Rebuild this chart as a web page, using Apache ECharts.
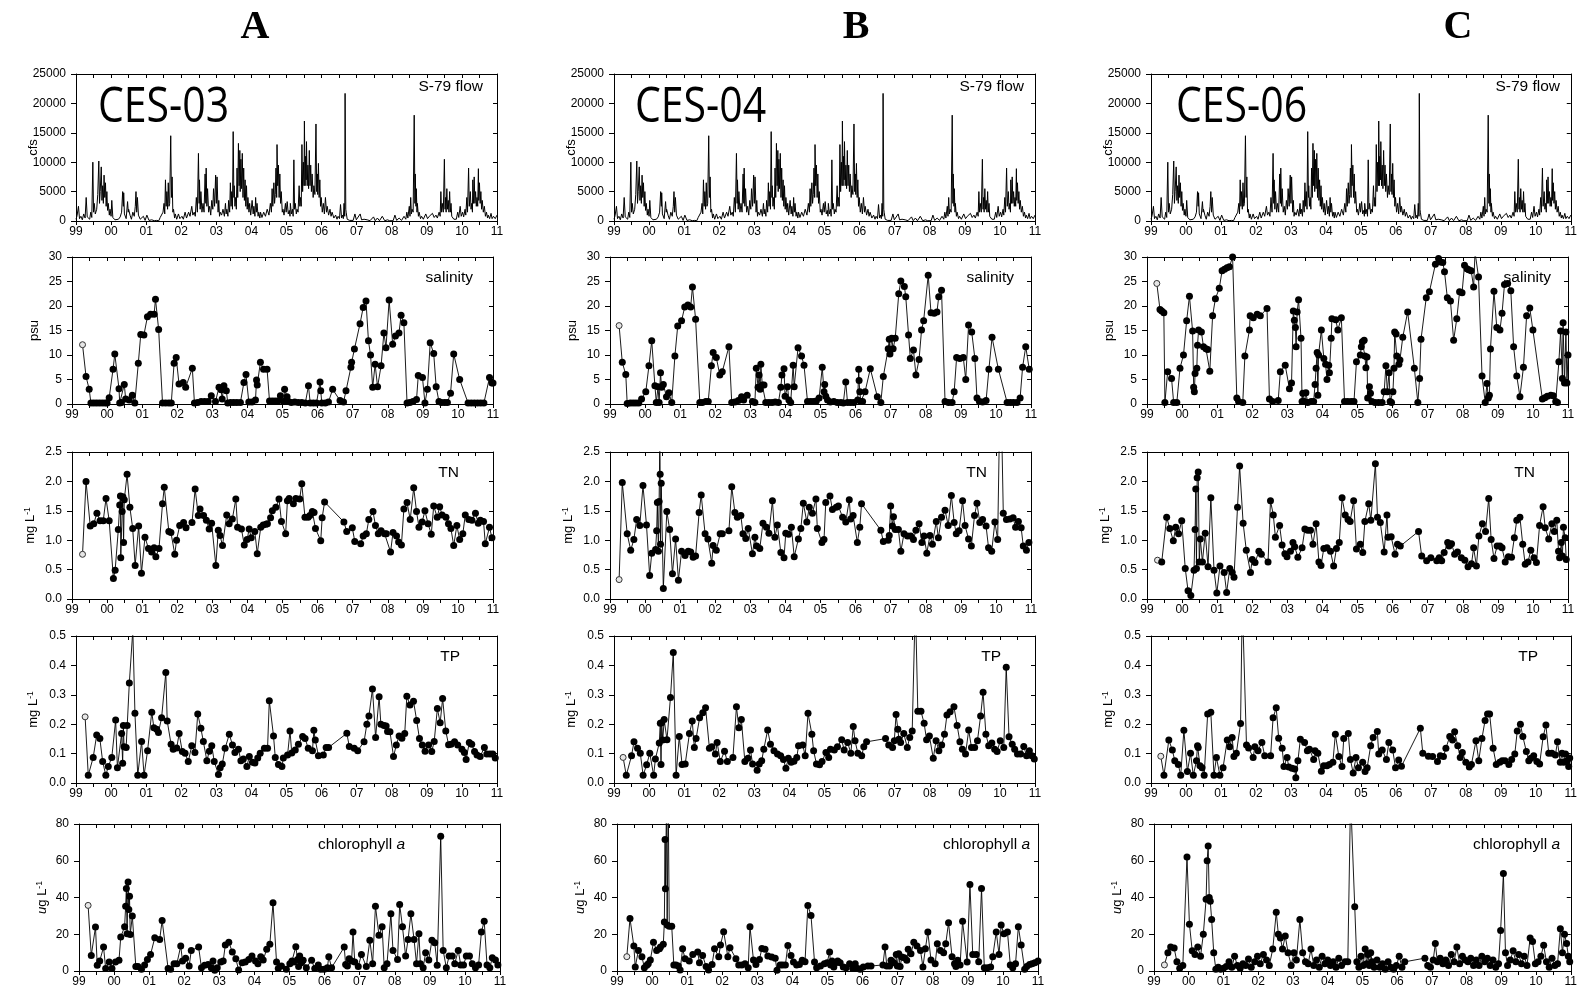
<!DOCTYPE html>
<html><head><meta charset="utf-8">
<script src="https://cdn.jsdelivr.net/npm/echarts@6/dist/echarts.min.js"></script>
<style>html,body{margin:0;padding:0;background:#fff}#c{width:1580px;height:995px}</style>
</head><body><div id="c"></div>
<script>
// ---------------- data ----------------
const columnTitles = ['A','B','C'];
const stations = ['CES-03','CES-04','CES-06'];
const panelLabels = ['S-79 flow','salinity','TN','TP','chlorophyll a'];
const yMax = [25000,30,2.5,0.5,80];
const yStep = [5000,5,0.5,0.1,20];
const yDecimals = [0,0,1,1,0];
const xMin = 1999, xMax = 2011;

// S-79 daily flow (cfs), [decimal year, value]
const flow = [[1999.00,300],[1999.03,900],[1999.07,2500],[1999.10,400],[1999.14,800],[1999.18,200],[1999.22,1200],[1999.26,500],[1999.29,4000],[1999.32,700],[1999.35,1000],[1999.39,300],[1999.42,1500],[1999.45,600],[1999.48,10000],[1999.50,1500],[1999.52,3000],[1999.55,1200],[1999.59,2000],[1999.62,4500],[1999.65,10200],[1999.67,3000],[1999.69,5000],[1999.72,9200],[1999.74,3500],[1999.76,6000],[1999.78,3000],[1999.80,7800],[1999.82,4000],[1999.84,6500],[1999.86,2500],[1999.88,5000],[1999.90,1800],[1999.92,3000],[1999.95,1000],[1999.97,2000],[2000.00,800],[2000.02,3500],[2000.05,600],[2000.07,500],[2000.11,200],[2000.16,500],[2000.21,300],[2000.26,700],[2000.30,1500],[2000.33,5000],[2000.35,2500],[2000.36,4800],[2000.38,1200],[2000.40,1500],[2000.43,400],[2000.47,3300],[2000.49,1500],[2000.50,2000],[2000.54,1000],[2000.58,300],[2000.62,1500],[2000.66,800],[2000.69,2500],[2000.71,5000],[2000.73,1500],[2000.75,4000],[2000.78,1000],[2000.83,300],[2000.88,100],[2000.92,800],[2000.97,100],[2001.02,1000],[2001.08,100],[2001.16,200],[2001.23,50],[2001.30,100],[2001.36,50],[2001.40,600],[2001.45,300],[2001.48,1500],[2001.51,3000],[2001.53,1200],[2001.55,7000],[2001.57,2500],[2001.59,5000],[2001.61,2000],[2001.63,6500],[2001.65,2500],[2001.67,3000],[2001.70,14500],[2001.72,4000],[2001.74,7500],[2001.76,1500],[2001.78,2000],[2001.81,500],[2001.83,1200],[2001.87,300],[2001.92,1200],[2001.96,400],[2002.02,800],[2002.06,300],[2002.11,1500],[2002.15,500],[2002.21,1500],[2002.25,800],[2002.30,2500],[2002.33,1000],[2002.37,1500],[2002.40,800],[2002.43,4000],[2002.46,1500],[2002.49,11500],[2002.51,3000],[2002.52,7000],[2002.54,2000],[2002.56,5000],[2002.59,1500],[2002.62,3000],[2002.65,1500],[2002.68,8000],[2002.70,3000],[2002.71,9000],[2002.73,2500],[2002.75,5500],[2002.78,1500],[2002.81,2500],[2002.84,1000],[2002.87,3500],[2002.90,2000],[2002.92,5500],[2002.95,2500],[2002.98,7800],[2003.00,3000],[2003.02,7500],[2003.05,1500],[2003.07,3500],[2003.09,800],[2003.11,1500],[2003.15,1000],[2003.19,2000],[2003.23,800],[2003.26,3000],[2003.28,1200],[2003.30,2000],[2003.33,800],[2003.35,3500],[2003.38,1500],[2003.40,6500],[2003.42,2500],[2003.44,5000],[2003.46,2000],[2003.48,15200],[2003.50,4000],[2003.51,6000],[2003.53,2500],[2003.55,4000],[2003.57,2000],[2003.59,9000],[2003.61,4000],[2003.63,13200],[2003.65,6000],[2003.67,12000],[2003.68,5000],[2003.70,10500],[2003.72,5500],[2003.74,11500],[2003.76,4000],[2003.78,9000],[2003.80,3500],[2003.82,7000],[2003.84,2500],[2003.86,6000],[2003.88,2000],[2003.90,4000],[2003.93,1500],[2003.95,3000],[2003.98,1000],[2004.02,3500],[2004.05,1200],[2004.07,2500],[2004.10,800],[2004.12,4000],[2004.14,1500],[2004.16,3000],[2004.19,800],[2004.21,1500],[2004.24,500],[2004.26,1500],[2004.30,600],[2004.35,1500],[2004.40,800],[2004.45,2000],[2004.50,1000],[2004.54,3000],[2004.57,1500],[2004.59,5500],[2004.61,2500],[2004.64,6500],[2004.66,3000],[2004.68,4500],[2004.70,9000],[2004.72,4000],[2004.73,13000],[2004.75,6000],[2004.77,9500],[2004.79,4000],[2004.81,8000],[2004.83,3000],[2004.85,5000],[2004.88,1500],[2004.90,2000],[2004.93,1000],[2004.97,3000],[2004.99,1500],[2005.02,3300],[2005.05,1200],[2005.08,1800],[2005.10,800],[2005.11,3000],[2005.14,1200],[2005.17,2000],[2005.19,800],[2005.21,10400],[2005.23,2000],[2005.25,3000],[2005.28,1200],[2005.30,2000],[2005.33,1500],[2005.36,6000],[2005.38,2500],[2005.40,4000],[2005.42,2500],[2005.44,13000],[2005.46,5000],[2005.48,10000],[2005.50,6000],[2005.51,17000],[2005.53,6000],[2005.54,11000],[2005.56,7000],[2005.57,13500],[2005.59,6000],[2005.61,9500],[2005.63,5500],[2005.65,12000],[2005.67,6000],[2005.69,9500],[2005.71,5000],[2005.73,8000],[2005.76,4000],[2005.78,6000],[2005.81,4500],[2005.84,16500],[2005.86,5000],[2005.88,8000],[2005.89,4500],[2005.91,9800],[2005.93,4000],[2005.95,7000],[2005.97,2500],[2005.99,4000],[2006.02,1500],[2006.05,3000],[2006.08,1200],[2006.11,4000],[2006.14,1500],[2006.16,2500],[2006.20,1000],[2006.24,2000],[2006.27,800],[2006.30,1500],[2006.35,500],[2006.40,1000],[2006.44,300],[2006.47,800],[2006.51,400],[2006.54,2800],[2006.57,500],[2006.60,1000],[2006.62,400],[2006.64,3000],[2006.66,800],[2006.67,21700],[2006.69,2000],[2006.70,1500],[2006.73,300],[2006.75,500],[2006.80,100],[2006.85,300],[2006.90,100],[2006.95,1200],[2006.99,200],[2007.04,100],[2007.10,1200],[2007.14,200],[2007.21,300],[2007.26,50],[2007.30,200],[2007.38,50],[2007.48,700],[2007.53,50],[2007.59,500],[2007.65,50],[2007.73,800],[2007.80,50],[2007.88,200],[2007.94,50],[2007.98,300],[2008.04,50],[2008.09,1000],[2008.14,100],[2008.21,500],[2008.28,100],[2008.35,800],[2008.40,300],[2008.43,1500],[2008.46,500],[2008.50,2500],[2008.52,800],[2008.54,4000],[2008.56,1200],[2008.58,2000],[2008.61,1500],[2008.64,18000],[2008.66,3000],[2008.67,8000],[2008.69,2500],[2008.70,5500],[2008.72,1500],[2008.73,3000],[2008.76,800],[2008.78,1500],[2008.82,400],[2008.85,800],[2008.90,300],[2008.97,1200],[2009.02,400],[2009.07,800],[2009.12,500],[2009.16,1300],[2009.21,600],[2009.26,1000],[2009.30,500],[2009.35,1500],[2009.38,800],[2009.40,5000],[2009.42,1500],[2009.44,3000],[2009.47,1500],[2009.50,10500],[2009.52,2000],[2009.53,4000],[2009.55,1500],[2009.57,5500],[2009.59,2000],[2009.61,3500],[2009.63,1500],[2009.65,5000],[2009.67,1500],[2009.69,3000],[2009.71,800],[2009.73,1000],[2009.77,300],[2009.80,500],[2009.84,300],[2009.88,1500],[2009.91,600],[2009.95,2500],[2009.98,800],[2010.02,1500],[2010.05,700],[2010.09,2000],[2010.11,1000],[2010.14,4000],[2010.16,1500],[2010.19,9000],[2010.21,2500],[2010.24,5000],[2010.26,2000],[2010.28,3000],[2010.30,1500],[2010.31,7000],[2010.33,3000],[2010.35,7500],[2010.37,3000],[2010.39,5000],[2010.41,2500],[2010.43,4000],[2010.45,2500],[2010.47,8900],[2010.48,3500],[2010.50,6500],[2010.52,3000],[2010.54,5000],[2010.56,2000],[2010.58,3500],[2010.61,1500],[2010.64,2500],[2010.67,800],[2010.70,1500],[2010.73,500],[2010.75,1000],[2010.79,400],[2010.83,1300],[2010.86,400],[2010.90,800],[2010.95,400],[2011.00,1000]];

// CES-03
const sal03 = [[1999.30,12.1],[1999.40,5.6],[1999.49,3.0],[1999.54,0.2],[1999.62,0.2],[1999.70,0.2],[1999.78,0.2],[1999.86,0.2],[1999.94,0.2],[2000.00,0.2],[2000.06,1.3],[2000.17,7.1],[2000.22,10.2],[2000.34,3.1],[2000.36,0.2],[2000.41,0.3],[2000.49,4.0],[2000.53,1.0],[2000.63,0.8],[2000.72,1.8],[2000.79,0.2],[2000.89,8.3],[2000.96,14.2],[2001.05,14.1],[2001.15,17.8],[2001.24,18.3],[2001.34,18.3],[2001.38,21.4],[2001.47,15.2],[2001.58,0.2],[2001.67,0.2],[2001.76,0.2],[2001.83,0.2],[2001.91,8.3],[2001.97,9.5],[2002.05,4.1],[2002.17,4.4],[2002.24,3.4],[2002.43,7.3],[2002.49,0.2],[2002.58,0.3],[2002.68,0.5],[2002.78,0.5],[2002.88,0.5],[2002.97,1.7],[2003.09,0.5],[2003.19,3.4],[2003.25,2.9],[2003.28,1.0],[2003.33,3.7],[2003.40,2.7],[2003.44,0.2],[2003.52,0.3],[2003.61,0.3],[2003.70,0.3],[2003.80,0.3],[2003.90,4.4],[2003.96,6.0],[2004.04,0.4],[2004.13,0.4],[2004.23,0.8],[2004.26,4.9],[2004.28,3.9],[2004.37,8.5],[2004.46,7.1],[2004.56,7.1],[2004.63,0.6],[2004.71,0.6],[2004.79,0.6],[2004.87,0.6],[2004.94,1.7],[2005.03,0.5],[2005.06,3.0],[2005.13,1.5],[2005.17,0.5],[2005.25,0.3],[2005.35,0.4],[2005.45,0.3],[2005.55,0.3],[2005.65,0.2],[2005.74,3.7],[2005.79,0.2],[2005.88,0.2],[2005.97,0.2],[2006.07,4.5],[2006.09,2.7],[2006.12,0.2],[2006.22,0.2],[2006.31,0.4],[2006.43,3.0],[2006.64,0.7],[2006.74,0.4],[2006.81,2.7],[2006.95,7.5],[2006.97,8.5],[2007.05,11.2],[2007.21,16.4],[2007.30,19.7],[2007.38,21.0],[2007.45,12.9],[2007.51,10.0],[2007.57,3.4],[2007.64,8.1],[2007.71,3.5],[2007.81,7.8],[2007.89,14.5],[2007.95,11.5],[2008.04,21.2],[2008.14,12.2],[2008.22,13.9],[2008.32,14.5],[2008.38,18.1],[2008.46,16.6],[2008.55,0.2],[2008.63,0.3],[2008.72,0.5],[2008.82,0.9],[2008.87,5.8],[2008.99,5.4],[2009.06,0.2],[2009.13,3.0],[2009.21,12.5],[2009.31,10.3],[2009.38,3.5],[2009.46,0.5],[2009.53,0.3],[2009.62,0.3],[2009.70,0.3],[2009.79,2.2],[2009.88,10.2],[2010.05,5.0],[2010.29,0.2],[2010.38,0.2],[2010.47,0.2],[2010.56,0.2],[2010.65,0.2],[2010.74,0.2],[2010.90,5.4],[2010.97,4.3],[2011.00,4.3]];
const tn03 = [[1999.30,0.76],[1999.40,2.0],[1999.52,1.24],[1999.62,1.28],[1999.71,1.46],[1999.80,1.33],[1999.89,1.33],[1999.97,1.71],[2000.06,1.33],[2000.18,0.35],[2000.23,0.49],[2000.32,1.18],[2000.36,1.60],[2000.38,1.75],[2000.39,0.70],[2000.43,1.49],[2000.45,1.74],[2000.47,0.96],[2000.49,1.69],[2000.57,2.12],[2000.65,1.56],[2000.73,1.20],[2000.80,0.57],[2000.90,1.24],[2000.98,0.44],[2001.08,1.05],[2001.18,0.86],[2001.27,0.80],[2001.34,0.87],[2001.39,0.72],[2001.48,0.86],[2001.58,1.62],[2001.63,1.90],[2001.76,1.15],[2001.82,1.13],[2001.93,0.76],[2001.98,1.0],[2002.07,1.25],[2002.18,1.30],[2002.25,1.21],[2002.42,1.30],[2002.51,1.87],[2002.60,1.42],[2002.65,1.53],[2002.75,1.42],[2002.83,1.34],[2002.91,1.19],[2002.98,1.29],[2003.10,0.57],[2003.17,1.17],[2003.22,1.08],[2003.29,0.91],[2003.41,1.43],[2003.48,1.28],[2003.57,1.36],[2003.67,1.70],[2003.72,1.22],[2003.83,1.19],[2003.91,0.92],[2003.99,1.01],[2004.05,1.19],[2004.11,1.04],[2004.21,1.15],[2004.28,0.77],[2004.38,1.22],[2004.45,1.26],[2004.53,1.27],[2004.57,1.28],[2004.66,1.38],[2004.71,1.50],[2004.81,1.56],[2004.90,1.70],[2004.97,1.32],[2005.09,1.11],[2005.14,1.67],[2005.19,1.71],[2005.31,1.62],[2005.38,1.71],[2005.49,1.70],[2005.55,1.96],[2005.64,1.39],[2005.73,1.39],[2005.78,1.42],[2005.85,1.49],[2005.90,1.47],[2005.94,1.20],[2006.09,0.99],[2006.13,1.38],[2006.20,1.65],[2006.75,1.31],[2006.83,1.15],[2006.99,1.21],[2007.06,0.98],[2007.23,0.94],[2007.30,1.07],[2007.39,1.11],[2007.46,1.35],[2007.58,1.49],[2007.65,1.25],[2007.73,1.11],[2007.81,1.16],[2007.91,1.11],[2007.96,1.11],[2008.08,0.80],[2008.15,1.13],[2008.25,1.07],[2008.31,0.97],[2008.39,0.92],[2008.46,1.53],[2008.55,1.64],[2008.64,1.35],[2008.74,1.89],[2008.82,1.49],[2008.89,1.22],[2008.98,1.31],[2009.06,1.50],[2009.15,1.28],[2009.24,1.10],[2009.31,1.58],[2009.41,1.39],[2009.48,1.57],[2009.55,1.43],[2009.66,1.39],[2009.73,1.28],[2009.80,1.20],[2009.88,0.91],[2009.97,1.25],[2010.05,1.01],[2010.14,1.11],[2010.21,1.43],[2010.31,1.35],[2010.40,1.34],[2010.50,1.46],[2010.58,1.29],[2010.64,1.34],[2010.73,1.32],[2010.78,0.94],[2010.90,1.22],[2010.97,1.04]];
const tp03 = [[1999.26,0.225],[1999.35,0.026],[1999.49,0.087],[1999.59,0.163],[1999.68,0.151],[1999.76,0.073],[1999.85,0.026],[1999.92,0.056],[2000.02,0.087],[2000.13,0.214],[2000.18,0.052],[2000.30,0.168],[2000.33,0.067],[2000.35,0.196],[2000.37,0.123],[2000.43,0.121],[2000.46,0.196],[2000.52,0.34],[2000.62,0.52],[2000.68,0.237],[2000.76,0.026],[2000.87,0.141],[2000.94,0.026],[2001.04,0.11],[2001.16,0.241],[2001.22,0.188],[2001.30,0.183],[2001.35,0.172],[2001.44,0.222],[2001.56,0.376],[2001.60,0.211],[2001.71,0.132],[2001.77,0.115],[2001.87,0.119],[2001.94,0.168],[2002.03,0.107],[2002.11,0.101],[2002.20,0.073],[2002.30,0.127],[2002.39,0.104],[2002.47,0.235],[2002.56,0.186],[2002.63,0.141],[2002.73,0.076],[2002.80,0.108],[2002.87,0.127],[2002.94,0.073],[2003.06,0.029],[2003.11,0.052],[2003.17,0.065],[2003.25,0.118],[2003.37,0.166],[2003.46,0.129],[2003.53,0.104],[2003.63,0.115],[2003.70,0.076],[2003.77,0.082],[2003.87,0.056],[2003.94,0.090],[2004.03,0.071],[2004.10,0.068],[2004.18,0.085],[2004.25,0.101],[2004.37,0.118],[2004.46,0.118],[2004.51,0.28],[2004.63,0.160],[2004.68,0.087],[2004.77,0.063],[2004.87,0.056],[2004.91,0.085],[2005.03,0.095],[2005.10,0.177],[2005.15,0.102],[2005.25,0.112],[2005.34,0.132],[2005.46,0.158],[2005.53,0.151],[2005.62,0.118],[2005.74,0.110],[2005.78,0.179],[2005.82,0.146],[2005.91,0.093],[2006.05,0.095],[2006.13,0.121],[2006.20,0.121],[2006.72,0.169],[2006.79,0.124],[2006.93,0.118],[2007.03,0.110],[2007.21,0.140],[2007.29,0.20],[2007.35,0.228],[2007.45,0.32],[2007.54,0.155],[2007.64,0.293],[2007.69,0.20],[2007.78,0.196],[2007.84,0.194],[2007.88,0.175],[2007.95,0.174],[2008.05,0.090],[2008.13,0.129],[2008.21,0.160],[2008.29,0.152],[2008.37,0.168],[2008.43,0.295],[2008.52,0.265],[2008.62,0.278],[2008.71,0.213],[2008.79,0.151],[2008.87,0.129],[2008.95,0.108],[2009.05,0.129],[2009.14,0.107],[2009.21,0.141],[2009.30,0.253],[2009.38,0.205],[2009.45,0.287],[2009.54,0.177],[2009.62,0.130],[2009.69,0.132],[2009.79,0.140],[2009.88,0.129],[2010.00,0.115],[2010.07,0.104],[2010.12,0.080],[2010.21,0.138],[2010.28,0.132],[2010.36,0.107],[2010.43,0.095],[2010.52,0.090],[2010.64,0.121],[2010.71,0.099],[2010.80,0.099],[2010.88,0.099],[2010.95,0.085]];
const chl03 = [[1999.26,35.7],[1999.35,8.5],[1999.47,23.9],[1999.52,3.1],[1999.59,5.4],[1999.70,13.0],[1999.76,1.4],[1999.86,4.9],[1999.94,1.4],[2000.04,4.9],[2000.14,5.8],[2000.19,18.5],[2000.30,24.1],[2000.33,35.3],[2000.35,44.9],[2000.37,20.3],[2000.40,48.5],[2000.42,33.5],[2000.44,40.7],[2000.46,19.9],[2000.52,29.9],[2000.62,2.4],[2000.68,2.4],[2000.78,0.9],[2000.87,3.3],[2000.95,6.3],[2001.04,9.0],[2001.16,18.1],[2001.30,17.2],[2001.37,27.5],[2001.54,1.3],[2001.61,0.9],[2001.71,4.0],[2001.79,4.0],[2001.90,13.6],[2001.95,5.4],[2002.04,6.9],[2002.14,2.7],[2002.20,11.2],[2002.41,13.0],[2002.49,1.8],[2002.58,3.1],[2002.68,3.6],[2002.77,1.8],[2002.82,5.4],[2002.87,0.4],[2002.94,1.8],[2003.04,4.9],[2003.11,5.4],[2003.17,14.1],[2003.27,15.7],[2003.37,10.3],[2003.47,6.7],[2003.55,0.5],[2003.65,4.5],[2003.74,4.9],[2003.84,6.3],[2003.93,8.1],[2004.03,5.4],[2004.10,4.0],[2004.18,7.8],[2004.25,6.0],[2004.35,11.8],[2004.44,14.5],[2004.53,37.1],[2004.63,4.9],[2004.68,1.4],[2004.77,2.7],[2004.91,0.9],[2005.01,4.0],[2005.07,5.4],[2005.12,4.9],[2005.18,13.2],[2005.23,6.3],[2005.26,2.4],[2005.29,8.1],[2005.34,4.5],[2005.39,5.8],[2005.48,1.8],[2005.63,5.8],[2005.72,1.3],[2005.82,3.3],[2005.89,0.9],[2005.99,0.9],[2006.08,1.8],[2006.12,7.8],[2006.20,1.8],[2006.56,13.0],[2006.60,3.6],[2006.65,2.7],[2006.70,6.7],[2006.77,5.4],[2006.81,21.2],[2006.86,4.9],[2006.96,2.4],[2007.05,9.0],[2007.19,2.4],[2007.29,16.8],[2007.37,4.0],[2007.45,35.3],[2007.55,19.4],[2007.64,24.1],[2007.70,1.8],[2007.78,4.0],[2007.89,31.1],[2007.95,11.2],[2008.08,6.3],[2008.14,36.2],[2008.22,24.1],[2008.31,8.1],[2008.38,17.2],[2008.46,31.1],[2008.55,17.2],[2008.62,4.0],[2008.69,20.3],[2008.73,4.0],[2008.81,1.8],[2008.88,10.0],[2008.97,6.0],[2009.06,16.8],[2009.14,15.4],[2009.21,3.1],[2009.31,73.3],[2009.38,11.2],[2009.47,1.8],[2009.55,8.1],[2009.64,8.1],[2009.71,4.0],[2009.81,11.2],[2009.88,3.3],[2009.96,3.3],[2010.04,8.1],[2010.13,8.1],[2010.21,4.0],[2010.30,1.8],[2010.39,3.3],[2010.47,21.2],[2010.55,27.1],[2010.63,3.3],[2010.71,1.8],[2010.78,7.2],[2010.87,6.0],[2010.94,3.3]];

// CES-04
const sal04 = [[1999.26,16.0],[1999.35,8.5],[1999.45,6.0],[1999.49,0.1],[1999.58,0.2],[1999.66,0.2],[1999.74,0.2],[1999.82,0.2],[1999.90,1.0],[2000.02,2.5],[2000.11,7.8],[2000.19,12.9],[2000.28,3.7],[2000.32,0.3],[2000.37,3.5],[2000.40,0.3],[2000.44,6.4],[2000.47,3.4],[2000.52,4.0],[2000.61,1.5],[2000.68,2.3],[2000.76,0.3],[2000.85,9.8],[2000.93,15.9],[2001.04,17.0],[2001.13,19.8],[2001.22,20.2],[2001.30,19.8],[2001.35,23.9],[2001.44,17.3],[2001.56,0.3],[2001.63,0.3],[2001.73,0.5],[2001.80,0.5],[2001.89,7.8],[2001.94,10.5],[2002.03,9.5],[2002.13,5.9],[2002.20,6.6],[2002.39,11.7],[2002.47,0.3],[2002.56,0.4],[2002.66,0.7],[2002.75,1.5],[2002.81,0.8],[2002.91,1.8],[2003.06,0.5],[2003.13,0.3],[2003.17,7.3],[2003.22,3.4],[2003.25,5.9],[2003.28,3.0],[2003.30,8.1],[2003.34,3.9],[2003.39,3.9],[2003.44,0.3],[2003.53,0.3],[2003.62,0.3],[2003.71,0.4],[2003.80,0.3],[2003.87,3.4],[2003.90,5.9],[2003.96,7.2],[2003.99,1.6],[2004.06,3.5],[2004.10,0.8],[2004.15,0.3],[2004.22,7.9],[2004.25,3.5],[2004.36,11.5],[2004.46,9.8],[2004.53,7.9],[2004.63,0.5],[2004.72,0.5],[2004.80,0.5],[2004.88,0.6],[2004.96,1.2],[2005.05,7.5],[2005.10,2.5],[2005.12,4.0],[2005.15,1.6],[2005.20,0.8],[2005.28,0.4],[2005.38,0.5],[2005.48,0.3],[2005.58,0.3],[2005.65,0.2],[2005.72,4.5],[2005.77,0.3],[2005.86,0.3],[2005.95,0.3],[2006.06,0.8],[2006.09,7.1],[2006.10,4.8],[2006.12,2.5],[2006.15,0.5],[2006.20,0.5],[2006.27,2.5],[2006.42,7.2],[2006.62,1.5],[2006.72,0.3],[2006.79,5.6],[2006.93,11.3],[2006.96,13.2],[2006.98,10.2],[2007.03,13.4],[2007.07,11.3],[2007.13,13.4],[2007.23,22.5],[2007.29,25.1],[2007.39,24.0],[2007.43,21.9],[2007.51,14.1],[2007.56,9.3],[2007.65,11.0],[2007.72,5.9],[2007.81,9.1],[2007.88,15.1],[2007.94,17.0],[2008.07,26.3],[2008.15,18.6],[2008.24,18.5],[2008.32,18.8],[2008.37,21.9],[2008.45,23.2],[2008.55,0.5],[2008.65,0.3],[2008.75,0.3],[2008.81,2.5],[2008.88,9.5],[2008.97,9.3],[2009.07,9.5],[2009.14,5.0],[2009.22,16.1],[2009.31,14.7],[2009.40,9.3],[2009.46,1.2],[2009.53,0.5],[2009.62,0.4],[2009.72,0.7],[2009.80,7.1],[2009.89,13.6],[2010.07,7.1],[2010.32,0.3],[2010.41,0.3],[2010.50,0.3],[2010.60,0.3],[2010.69,1.2],[2010.76,7.5],[2010.85,11.7],[2010.95,7.1]];
const tn04 = [[1999.26,0.33],[1999.35,1.98],[1999.49,1.11],[1999.59,0.83],[1999.68,1.01],[1999.76,1.35],[1999.85,1.25],[1999.94,1.93],[2000.04,1.26],[2000.13,0.40],[2000.19,0.78],[2000.30,0.84],[2000.33,1.16],[2000.35,1.64],[2000.38,0.81],[2000.40,1.66],[2000.42,2.7],[2000.43,2.12],[2000.44,0.93],[2000.46,1.97],[2000.52,0.18],[2000.62,1.49],[2000.70,1.18],[2000.78,0.43],[2000.87,1.02],[2000.95,0.32],[2001.04,0.81],[2001.14,0.74],[2001.23,0.81],[2001.30,0.80],[2001.37,0.71],[2001.44,0.73],[2001.54,1.47],[2001.60,1.77],[2001.71,1.11],[2001.79,1.02],[2001.90,0.61],[2001.94,0.91],[2002.03,0.83],[2002.14,1.11],[2002.20,1.11],[2002.39,1.16],[2002.47,1.91],[2002.56,1.47],[2002.63,1.39],[2002.73,1.42],[2002.79,1.11],[2002.87,1.03],[2002.94,1.20],[2003.06,0.77],[2003.13,1.05],[2003.18,0.90],[2003.27,0.86],[2003.36,1.29],[2003.46,1.22],[2003.53,1.12],[2003.63,1.67],[2003.70,1.05],[2003.77,1.26],[2003.87,0.79],[2003.96,0.70],[2004.01,1.12],[2004.09,1.10],[2004.17,1.22],[2004.25,0.72],[2004.37,1.02],[2004.44,1.20],[2004.51,1.63],[2004.61,1.31],[2004.68,1.56],[2004.77,1.46],[2004.87,1.70],[2004.91,1.20],[2005.04,0.96],[2005.10,1.01],[2005.15,1.64],[2005.27,1.75],[2005.34,1.52],[2005.45,1.56],[2005.51,1.58],[2005.63,1.39],[2005.72,1.31],[2005.82,1.69],[2005.86,1.36],[2005.93,1.42],[2006.05,0.96],[2006.12,1.22],[2006.17,1.62],[2006.72,1.17],[2006.79,0.98],[2006.93,1.00],[2006.96,1.08],[2007.00,1.58],[2007.05,1.24],[2007.08,1.40],[2007.13,1.18],[2007.22,1.18],[2007.29,0.81],[2007.38,1.11],[2007.48,1.07],[2007.57,1.07],[2007.65,1.01],[2007.72,1.17],[2007.81,1.28],[2007.89,0.96],[2007.95,1.07],[2008.03,0.78],[2008.12,1.08],[2008.19,0.93],[2008.30,1.32],[2008.36,1.04],[2008.45,1.39],[2008.55,1.51],[2008.64,1.25],[2008.73,1.76],[2008.81,1.30],[2008.87,1.11],[2008.95,1.16],[2009.05,1.67],[2009.12,1.25],[2009.22,1.02],[2009.30,0.90],[2009.39,1.42],[2009.46,1.63],[2009.54,1.30],[2009.62,1.35],[2009.72,1.24],[2009.79,0.87],[2009.88,0.81],[2009.97,1.31],[2010.05,1.01],[2010.13,4.0],[2010.21,1.46],[2010.30,1.35],[2010.40,1.36],[2010.49,1.38],[2010.56,1.22],[2010.64,1.32],[2010.72,1.21],[2010.78,0.90],[2010.87,0.83],[2010.94,0.96]];
const tp04 = [[1999.26,0.087],[1999.35,0.026],[1999.50,0.093],[1999.57,0.140],[1999.67,0.118],[1999.75,0.101],[1999.83,0.026],[1999.93,0.062],[2000.02,0.101],[2000.13,0.026],[2000.18,0.082],[2000.29,0.136],[2000.32,0.203],[2000.34,0.063],[2000.36,0.205],[2000.39,0.146],[2000.43,0.216],[2000.51,0.147],[2000.61,0.291],[2000.69,0.444],[2000.77,0.026],[2000.86,0.158],[2000.94,0.063],[2001.03,0.065],[2001.15,0.168],[2001.23,0.211],[2001.29,0.121],[2001.34,0.151],[2001.44,0.222],[2001.53,0.239],[2001.61,0.256],[2001.72,0.118],[2001.79,0.123],[2001.89,0.099],[2001.94,0.138],[2002.03,0.073],[2002.15,0.108],[2002.23,0.073],[2002.39,0.087],[2002.49,0.259],[2002.56,0.188],[2002.63,0.216],[2002.73,0.073],[2002.82,0.084],[2002.89,0.112],[2002.95,0.065],[2003.08,0.043],[2003.14,0.065],[2003.21,0.076],[2003.27,0.115],[2003.38,0.180],[2003.46,0.132],[2003.56,0.110],[2003.66,0.099],[2003.75,0.093],[2003.83,0.080],[2003.90,0.050],[2003.97,0.084],[2004.05,0.071],[2004.13,0.074],[2004.21,0.087],[2004.26,0.127],[2004.38,0.129],[2004.45,0.093],[2004.53,0.237],[2004.64,0.166],[2004.69,0.110],[2004.77,0.065],[2004.86,0.062],[2004.93,0.073],[2005.04,0.104],[2005.12,0.087],[2005.17,0.115],[2005.28,0.112],[2005.37,0.123],[2005.49,0.147],[2005.56,0.112],[2005.66,0.138],[2005.75,0.101],[2005.82,0.192],[2005.87,0.144],[2005.95,0.101],[2006.06,0.093],[2006.12,0.123],[2006.20,0.140],[2006.74,0.151],[2006.83,0.129],[2006.94,0.121],[2006.99,0.144],[2007.04,0.233],[2007.09,0.183],[2007.12,0.149],[2007.17,0.138],[2007.26,0.168],[2007.36,0.121],[2007.43,0.155],[2007.50,0.177],[2007.59,0.62],[2007.66,0.244],[2007.75,0.244],[2007.84,0.203],[2007.91,0.147],[2007.99,0.160],[2008.10,0.084],[2008.18,0.144],[2008.26,0.110],[2008.34,0.129],[2008.42,0.166],[2008.49,0.231],[2008.58,0.242],[2008.69,0.259],[2008.78,0.196],[2008.86,0.140],[2008.93,0.115],[2009.02,0.099],[2009.11,0.180],[2009.19,0.121],[2009.28,0.121],[2009.36,0.144],[2009.45,0.228],[2009.52,0.309],[2009.60,0.166],[2009.68,0.127],[2009.77,0.136],[2009.85,0.115],[2009.92,0.107],[2010.01,0.144],[2010.11,0.121],[2010.18,0.394],[2010.26,0.157],[2010.35,0.132],[2010.42,0.115],[2010.50,0.099],[2010.59,0.099],[2010.68,0.124],[2010.76,0.093],[2010.84,0.110],[2010.91,0.093],[2010.98,0.082]];
const chl04 = [[1999.28,7.8],[1999.37,28.6],[1999.48,13.6],[1999.52,2.2],[1999.61,11.2],[1999.71,7.8],[1999.78,1.8],[1999.85,3.1],[1999.89,4.0],[1999.95,6.0],[2000.04,15.7],[2000.13,11.2],[2000.21,12.1],[2000.24,13.0],[2000.32,14.5],[2000.35,26.6],[2000.37,71.5],[2000.38,44.7],[2000.41,90],[2000.43,25.0],[2000.46,95],[2000.49,24.4],[2000.56,24.4],[2000.62,3.3],[2000.68,3.3],[2000.75,2.7],[2000.80,0.5],[2000.87,12.1],[2000.94,6.7],[2001.06,5.4],[2001.16,9.0],[2001.30,10.3],[2001.35,4.5],[2001.44,8.5],[2001.54,2.4],[2001.61,0.5],[2001.71,3.6],[2001.78,12.1],[2001.90,7.8],[2001.95,14.1],[2002.04,21.4],[2002.16,7.8],[2002.22,12.7],[2002.39,6.7],[2002.47,3.3],[2002.56,3.3],[2002.65,4.0],[2002.74,1.8],[2002.79,24.1],[2002.89,6.0],[2002.96,3.6],[2003.06,6.3],[2003.13,12.3],[2003.22,11.8],[2003.30,8.1],[2003.41,7.6],[2003.51,6.9],[2003.56,0.4],[2003.65,3.3],[2003.72,3.3],[2003.80,3.3],[2003.87,13.9],[2003.96,8.5],[2004.03,4.9],[2004.12,3.3],[2004.20,3.6],[2004.28,5.8],[2004.36,5.1],[2004.44,35.7],[2004.53,30.2],[2004.63,4.9],[2004.69,1.8],[2004.80,2.7],[2004.91,4.0],[2004.99,4.5],[2005.06,10.3],[2005.09,3.3],[2005.13,5.4],[2005.18,2.2],[2005.23,4.5],[2005.29,5.4],[2005.36,4.5],[2005.45,2.2],[2005.53,1.8],[2005.63,4.0],[2005.72,1.4],[2005.79,4.0],[2005.86,1.4],[2005.93,0.9],[2006.02,2.2],[2006.15,2.7],[2006.24,2.7],[2006.58,3.3],[2006.64,13.0],[2006.69,2.7],[2006.77,2.7],[2006.81,5.8],[2006.89,4.5],[2006.96,9.0],[2006.99,2.7],[2007.03,9.4],[2007.07,2.4],[2007.12,7.6],[2007.19,7.2],[2007.26,5.8],[2007.30,11.8],[2007.38,9.4],[2007.46,15.7],[2007.55,13.6],[2007.65,11.2],[2007.72,2.2],[2007.79,12.1],[2007.86,21.2],[2007.95,6.0],[2008.07,4.0],[2008.13,14.8],[2008.22,11.2],[2008.31,10.0],[2008.37,14.8],[2008.45,26.2],[2008.55,7.8],[2008.62,4.0],[2008.66,2.4],[2008.71,5.8],[2008.78,3.3],[2008.85,27.1],[2008.98,4.9],[2009.06,47.1],[2009.14,9.0],[2009.24,9.0],[2009.31,5.1],[2009.39,44.9],[2009.47,1.8],[2009.56,1.8],[2009.65,2.2],[2009.71,7.8],[2009.81,21.2],[2009.89,9.0],[2009.95,25.0],[2010.03,20.3],[2010.13,21.2],[2010.21,3.3],[2010.28,1.8],[2010.36,4.0],[2010.44,24.1],[2010.52,14.1],[2010.62,0.9],[2010.68,2.4],[2010.76,3.6],[2010.83,4.0],[2010.91,4.5],[2011.00,5.4]];

// CES-06
const sal06 = [[1999.28,24.6],[1999.37,19.3],[1999.42,19.0],[1999.48,18.6],[1999.51,0.3],[1999.59,6.6],[1999.70,5.2],[1999.76,0.3],[1999.85,0.3],[1999.94,7.3],[2000.04,10.0],[2000.13,17.0],[2000.21,22.0],[2000.30,14.9],[2000.33,3.4],[2000.35,2.5],[2000.37,6.2],[2000.42,7.3],[2000.44,12.0],[2000.47,15.1],[2000.55,14.7],[2000.61,11.7],[2000.68,11.3],[2000.73,11.1],[2000.79,6.7],[2000.87,18.0],[2000.95,21.5],[2001.06,23.6],[2001.14,27.2],[2001.21,27.5],[2001.28,27.8],[2001.35,28.0],[2001.44,30.0],[2001.56,1.2],[2001.61,0.5],[2001.73,0.3],[2001.79,9.8],[2001.92,15.1],[2001.94,18.0],[2002.03,17.6],[2002.14,18.3],[2002.23,18.0],[2002.42,19.5],[2002.49,1.0],[2002.58,0.5],[2002.74,0.7],[2002.80,6.6],[2002.94,7.9],[2003.06,3.1],[2003.12,4.3],[2003.17,19.0],[2003.20,17.1],[2003.23,15.6],[2003.25,11.7],[2003.28,18.8],[2003.32,21.3],[2003.39,13.4],[2003.42,0.5],[2003.44,2.2],[2003.49,0.5],[2003.53,2.3],[2003.58,0.3],[2003.68,0.5],[2003.75,0.5],[2003.79,4.0],[2003.82,7.3],[2003.85,10.5],[2003.87,1.8],[2003.89,10.0],[2003.97,15.1],[2004.04,9.3],[2004.09,8.1],[2004.13,5.0],[2004.18,7.9],[2004.20,6.4],[2004.25,13.4],[2004.27,17.4],[2004.38,17.2],[2004.44,15.1],[2004.54,17.6],[2004.63,0.5],[2004.72,0.5],[2004.82,0.5],[2004.90,0.5],[2004.97,8.6],[2005.08,10.0],[2005.11,11.7],[2005.14,12.7],[2005.19,13.0],[2005.21,9.8],[2005.24,7.4],[2005.27,9.6],[2005.29,1.2],[2005.34,3.5],[2005.37,2.2],[2005.41,0.5],[2005.50,0.3],[2005.60,0.3],[2005.70,0.3],[2005.76,2.5],[2005.81,7.8],[2005.85,2.5],[2005.90,6.4],[2005.93,0.5],[2005.97,0.3],[2006.01,2.5],[2006.04,7.3],[2006.06,14.7],[2006.10,14.3],[2006.12,9.8],[2006.18,8.1],[2006.21,9.0],[2006.29,13.6],[2006.43,18.8],[2006.62,7.3],[2006.72,0.3],[2006.77,5.2],[2006.81,13.2],[2006.96,21.7],[2007.05,22.9],[2007.22,28.5],[2007.31,29.7],[2007.36,29.0],[2007.43,28.9],[2007.48,27.0],[2007.56,21.7],[2007.65,21.0],[2007.74,13.0],[2007.83,17.4],[2007.91,22.9],[2007.98,22.7],[2008.05,28.3],[2008.12,27.6],[2008.17,27.4],[2008.24,27.2],[2008.31,23.9],[2008.35,31.0],[2008.45,25.9],[2008.55,5.7],[2008.64,0.3],[2008.69,4.2],[2008.73,1.2],[2008.76,1.8],[2008.79,11.2],[2008.89,23.0],[2008.97,15.6],[2009.06,15.1],[2009.12,18.5],[2009.19,24.4],[2009.28,24.6],[2009.37,23.1],[2009.45,11.7],[2009.54,5.7],[2009.63,1.5],[2009.73,7.5],[2009.82,18.0],[2009.91,19.6],[2010.00,15.1],[2010.27,1.0],[2010.34,1.3],[2010.41,1.6],[2010.51,1.8],[2010.58,1.7],[2010.65,0.5],[2010.70,0.3],[2010.74,8.6],[2010.79,14.9],[2010.84,5.2],[2010.86,16.6],[2010.90,4.3],[2010.94,14.7],[2010.97,4.3],[2011.00,10.0]];
const tn06 = [[1999.30,0.66],[1999.42,0.63],[1999.56,1.39],[1999.65,1.20],[1999.75,0.99],[1999.82,1.22],[1999.90,1.11],[1999.99,1.33],[2000.09,0.52],[2000.17,0.14],[2000.25,0.06],[2000.34,0.49],[2000.37,1.18],[2000.39,1.87],[2000.41,0.52],[2000.43,2.06],[2000.46,2.16],[2000.49,0.63],[2000.52,1.02],[2000.58,0.63],[2000.66,1.12],[2000.74,0.55],[2000.82,1.72],[2000.91,0.49],[2000.99,0.10],[2001.08,0.56],[2001.20,0.45],[2001.27,0.11],[2001.36,0.52],[2001.43,0.45],[2001.48,0.37],[2001.58,1.56],[2001.64,2.26],[2001.74,1.29],[2001.83,0.83],[2001.95,0.45],[2002.00,0.67],[2002.08,0.62],[2002.19,0.81],[2002.26,0.76],[2002.45,0.63],[2002.52,1.67],[2002.60,1.43],[2002.66,1.05],[2002.78,1.25],[2002.85,0.92],[2002.93,0.77],[2002.99,0.72],[2003.09,0.81],[2003.16,0.96],[2003.21,0.89],[2003.30,0.71],[2003.42,0.87],[2003.50,1.19],[2003.58,1.17],[2003.66,1.17],[2003.73,0.93],[2003.82,1.28],[2003.90,0.63],[2003.96,0.57],[2004.04,0.86],[2004.13,0.87],[2004.23,0.81],[2004.32,0.56],[2004.40,0.86],[2004.48,0.96],[2004.56,1.72],[2004.65,1.43],[2004.73,1.35],[2004.79,1.32],[2004.89,1.67],[2004.97,0.85],[2005.08,0.93],[2005.15,0.79],[2005.21,1.32],[2005.32,1.62],[2005.38,1.34],[2005.51,2.30],[2005.57,1.39],[2005.65,1.30],[2005.76,0.80],[2005.84,1.43],[2005.87,1.05],[2005.96,1.06],[2006.07,0.76],[2006.14,0.93],[2006.22,0.90],[2006.74,1.15],[2006.83,0.73],[2006.97,0.65],[2007.09,0.70],[2007.26,0.65],[2007.33,0.70],[2007.40,0.65],[2007.47,0.79],[2007.57,0.96],[2007.61,0.90],[2007.68,0.94],[2007.77,0.76],[2007.85,0.80],[2007.96,0.70],[2008.06,0.66],[2008.15,0.55],[2008.25,0.60],[2008.31,0.87],[2008.39,0.56],[2008.46,1.07],[2008.56,1.28],[2008.65,1.15],[2008.74,1.71],[2008.81,1.01],[2008.89,0.69],[2008.98,0.90],[2009.06,0.90],[2009.12,0.87],[2009.21,0.63],[2009.30,0.72],[2009.39,0.71],[2009.47,1.04],[2009.54,1.34],[2009.63,1.39],[2009.71,0.93],[2009.78,0.59],[2009.86,0.63],[2009.94,0.83],[2010.03,0.70],[2010.10,0.62],[2010.19,1.25],[2010.29,1.57],[2010.35,1.21],[2010.45,1.02],[2010.54,1.28],[2010.61,1.15],[2010.68,1.34],[2010.73,0.81],[2010.76,0.70],[2010.81,0.96],[2010.84,0.73],[2010.87,1.22],[2010.92,1.04],[2010.95,0.67]];
const tp06 = [[1999.28,0.091],[1999.37,0.026],[1999.51,0.146],[1999.61,0.112],[1999.68,0.076],[1999.78,0.063],[1999.85,0.026],[1999.94,0.179],[2000.04,0.039],[2000.13,0.101],[2000.21,0.026],[2000.30,0.076],[2000.33,0.127],[2000.35,0.121],[2000.40,0.059],[2000.46,0.052],[2000.52,0.026],[2000.62,0.235],[2000.71,0.241],[2000.80,0.026],[2000.87,0.087],[2000.97,0.026],[2001.06,0.052],[2001.18,0.146],[2001.25,0.123],[2001.32,0.155],[2001.37,0.090],[2001.44,0.101],[2001.56,0.202],[2001.61,0.62],[2001.73,0.129],[2001.79,0.119],[2001.92,0.087],[2001.97,0.123],[2002.06,0.110],[2002.17,0.138],[2002.25,0.093],[2002.42,0.093],[2002.49,0.222],[2002.58,0.256],[2002.65,0.152],[2002.75,0.118],[2002.80,0.056],[2002.89,0.087],[2002.94,0.054],[2003.03,0.050],[2003.11,0.048],[2003.14,0.018],[2003.20,0.076],[2003.27,0.149],[2003.39,0.138],[2003.47,0.110],[2003.53,0.115],[2003.65,0.080],[2003.69,0.110],[2003.77,0.101],[2003.87,0.040],[2003.94,0.059],[2004.03,0.059],[2004.10,0.063],[2004.20,0.071],[2004.27,0.166],[2004.37,0.090],[2004.46,0.056],[2004.51,0.151],[2004.64,0.168],[2004.70,0.080],[2004.78,0.034],[2004.86,0.087],[2004.93,0.052],[2005.05,0.071],[2005.12,0.039],[2005.18,0.052],[2005.28,0.127],[2005.35,0.155],[2005.47,0.175],[2005.51,0.099],[2005.61,0.112],[2005.73,0.080],[2005.80,0.138],[2005.91,0.112],[2005.99,0.052],[2006.08,0.078],[2006.16,0.057],[2006.70,0.186],[2006.77,0.101],[2006.93,0.091],[2007.05,0.090],[2007.19,0.073],[2007.27,0.093],[2007.36,0.090],[2007.43,0.118],[2007.54,0.158],[2007.62,0.146],[2007.68,0.174],[2007.77,0.127],[2007.84,0.087],[2007.90,0.104],[2008.00,0.071],[2008.10,0.054],[2008.16,0.063],[2008.29,0.144],[2008.37,0.076],[2008.46,0.151],[2008.55,0.213],[2008.62,0.235],[2008.68,0.235],[2008.78,0.118],[2008.87,0.063],[2008.97,0.071],[2009.04,0.076],[2009.12,0.076],[2009.23,0.063],[2009.31,0.080],[2009.40,0.099],[2009.47,0.177],[2009.56,0.200],[2009.63,0.158],[2009.73,0.107],[2009.80,0.076],[2009.86,0.084],[2009.94,0.093],[2010.03,0.073],[2010.11,0.065],[2010.21,0.157],[2010.29,0.197],[2010.37,0.101],[2010.46,0.101],[2010.56,0.095],[2010.62,0.140],[2010.70,0.071],[2010.75,0.101],[2010.80,0.071],[2010.85,0.099],[2010.90,0.076],[2010.94,0.056],[2010.97,0.085]];
const chl06 = [[1999.30,3.3],[1999.40,10],[1999.48,13],[1999.58,12.5],[1999.66,5],[1999.74,1.5],[1999.83,3],[1999.95,62],[2000.02,25.5],[2000.10,11],[2000.18,9],[2000.26,13],[2000.34,8],[2000.42,20],[2000.50,39],[2000.53,60],[2000.56,68],[2000.59,40],[2000.62,38],[2000.66,28],[2000.72,10],[2000.78,1],[2000.85,2],[2000.92,1],[2001.00,1.5],[2001.08,2.5],[2001.16,5],[2001.24,2],[2001.32,8],[2001.40,3],[2001.48,1.5],[2001.56,4],[2001.64,3],[2001.72,6.5],[2001.80,2],[2001.90,5],[2001.98,8],[2002.06,4],[2002.15,9],[2002.24,6],[2002.32,3],[2002.42,12],[2002.52,32],[2002.58,20],[2002.64,18],[2002.70,12],[2002.78,19],[2002.86,10],[2002.95,3],[2003.03,10],[2003.10,6],[2003.20,28],[2003.28,10],[2003.36,5],[2003.44,4],[2003.52,12],[2003.60,3],[2003.68,6],[2003.76,2],[2003.84,8],[2003.92,4],[2004.00,6],[2004.08,3],[2004.16,5],[2004.24,2],[2004.32,7],[2004.40,3],[2004.50,5],[2004.58,5],[2004.66,95],[2004.78,35],[2004.84,5],[2004.90,2],[2004.96,8],[2005.02,3],[2005.08,12],[2005.12,4],[2005.16,9],[2005.20,3],[2005.24,10],[2005.28,5],[2005.34,2],[2005.42,6],[2005.50,2],[2005.58,4],[2005.66,1],[2005.74,5],[2005.82,2],[2005.90,1],[2005.98,3],[2006.06,8],[2006.14,2],[2006.22,5],[2006.80,7],[2006.88,3],[2006.96,2],[2007.04,6],[2007.10,15],[2007.16,5],[2007.24,7],[2007.32,4],[2007.40,6],[2007.48,3],[2007.56,9],[2007.64,5],[2007.72,13],[2007.80,4],[2007.88,8],[2007.96,6],[2008.04,5],[2008.12,7],[2008.20,3],[2008.28,6],[2008.36,3],[2008.44,8],[2008.52,5],[2008.60,7],[2008.68,3],[2008.76,6],[2008.84,2],[2008.92,4],[2008.98,22],[2009.06,53],[2009.12,10],[2009.18,3],[2009.26,6],[2009.34,11],[2009.42,5],[2009.50,9],[2009.58,4],[2009.66,8],[2009.74,3],[2009.83,18],[2009.90,16],[2009.98,4],[2010.06,5],[2010.14,8],[2010.22,14],[2010.30,5],[2010.38,2],[2010.46,7],[2010.54,3],[2010.62,4],[2010.70,23],[2010.76,10],[2010.82,20],[2010.88,15],[2010.93,8],[2010.97,5]];

const panelData = [
  [flow, sal03, tn03, tp03, chl03],
  [flow, sal04, tn04, tp04, chl04],
  [flow, sal06, tn06, tp06, chl06]
];

// ---------------- layout ----------------
const FONT = '"Liberation Sans", Arial, sans-serif';
const colLeft = [76, 614, 1151];
const rowTop = [74, 257, 452, 636, 824];
const rowDx = [0, -4, -4, 0, 3];
const plotW = 421, plotH = 147;
const nameGap = [36, 31, 35, 36, 30];
const labelRightInset = [[14,20,34,37,95],[11,17,44,34,8],[12,17,33,34,15]];
const labelTopInset = [5,13,13,13,13];
const unitNames = ['cfs','psu','{b|mg L}{s|-1}','{b|mg L}{s|-1}','{i|u}{b|g L}{s|-1}'];

const grid = [], xAxis = [], yAxis = [], series = [], title = [];
const black = '#000';
for (let c = 0; c < 3; c++) {
  for (let r = 0; r < 5; r++) {
    const g = c * 5 + r;
    const left = colLeft[c] + rowDx[r];
    grid.push({left: left, top: rowTop[r], width: plotW, height: plotH});
    const tickStyle = {color: black, width: 1};
    xAxis.push({gridIndex: g, type: 'value', min: xMin, max: xMax, interval: 1, position: 'bottom',
      axisLine: {onZero: false, lineStyle: {color: black, width: 1}},
      axisTick: {inside: false, length: 4, lineStyle: tickStyle},
      minorTick: {show: true, splitNumber: 2, length: 4, lineStyle: tickStyle},
      splitLine: {show: false},
      axisLabel: {color: black, fontSize: 12, fontFamily: FONT, margin: 5,
        formatter: v => String(Math.round(v) % 100).padStart(2, '0')}});
    xAxis.push({gridIndex: g, type: 'value', min: xMin, max: xMax, interval: 1, position: 'top',
      axisLine: {onZero: false, lineStyle: {color: black, width: 1}},
      axisTick: {inside: true, length: 4, lineStyle: tickStyle},
      minorTick: {show: true, splitNumber: 2, length: 4, lineStyle: tickStyle},
      splitLine: {show: false}, axisLabel: {show: false}});
    yAxis.push({gridIndex: g, type: 'value', min: 0, max: yMax[r], interval: yStep[r], position: 'left',
      axisLine: {show: true, onZero: false, lineStyle: {color: black, width: 1}},
      axisTick: {show: true, inside: false, length: 5, lineStyle: tickStyle},
      splitLine: {show: false},
      axisLabel: {color: black, fontSize: 12, fontFamily: FONT, margin: 10,
        formatter: v => v.toFixed(yDecimals[r])},
      name: unitNames[r], nameLocation: 'middle', nameGap: nameGap[r], nameMoveOverlap: false,
      nameTextStyle: {color: black, fontSize: 13, fontFamily: FONT,
        rich: {b: {fontSize: 13, fontFamily: FONT, color: black},
               i: {fontSize: 13, fontFamily: FONT, fontStyle: 'italic', color: black},
               s: {fontSize: 8.5, fontFamily: FONT, color: black, verticalAlign: 'top', lineHeight: 14}}}});
    yAxis.push({gridIndex: g, type: 'value', min: 0, max: yMax[r], interval: yStep[r], position: 'right',
      axisLine: {show: true, onZero: false, lineStyle: {color: black, width: 1}},
      axisTick: {show: true, inside: true, length: 4, lineStyle: tickStyle},
      splitLine: {show: false}, axisLabel: {show: false}});

    const raw = panelData[c][r];
    if (r === 0) {
      series.push({type: 'line', xAxisIndex: 2 * g, yAxisIndex: 2 * g, data: raw,
        showSymbol: false, symbol: 'none', clip: true, animation: false,
        lineStyle: {color: black, width: 1}});
    } else {
      const data = raw.map((p, i) => i === 0
        ? {value: p, symbolSize: 6, itemStyle: {color: '#e6e6e6', borderColor: '#333', borderWidth: 1}}
        : {value: p});
      series.push({type: 'line', xAxisIndex: 2 * g, yAxisIndex: 2 * g, data: data,
        symbol: 'circle', symbolSize: 7, showAllSymbol: true, clip: true, animation: false,
        itemStyle: {color: black, borderWidth: 0}, lineStyle: {color: black, width: 0.9}});
    }

    const isChl = r === 4;
    title.push({
      text: isChl ? '{n|chlorophyll }{i|a}' : panelLabels[r],
      right: 1580 - (left + plotW - labelRightInset[c][r]),
      top: rowTop[r] + labelTopInset[r], padding: 0,
      textStyle: {color: black, fontSize: 15.5, fontWeight: 'normal', fontFamily: FONT,
        rich: {n: {fontSize: 15.5, fontFamily: FONT, color: black},
               i: {fontSize: 15.5, fontFamily: FONT, color: black, fontStyle: 'italic'}}}
    });
  }
}

const titleX = [255, 856, 1458];
const cesX = [98, 635, 1176];
const graphic = [];
for (let c = 0; c < 3; c++) {
  graphic.push({type: 'text', x: titleX[c], y: 28, z: 10,
    style: {text: columnTitles[c], font: 'bold 40px "Liberation Serif", "Times New Roman", serif',
      fill: black, textAlign: 'center', textVerticalAlign: 'middle', align: 'center', verticalAlign: 'middle'}});
  graphic.push({type: 'text', x: cesX[c], y: 108, scaleX: 0.82, z: 10,
    style: {text: stations[c], font: '50px "Open Sans", "Noto Sans", sans-serif',
      fill: black, textAlign: 'left', textVerticalAlign: 'middle', align: 'left', verticalAlign: 'middle'}});
}

const chart = echarts.init(document.getElementById('c'), null, {renderer: 'canvas'});
chart.setOption({backgroundColor: '#fff', animation: false, grid, xAxis, yAxis, series, title, graphic});
</script></body></html>
